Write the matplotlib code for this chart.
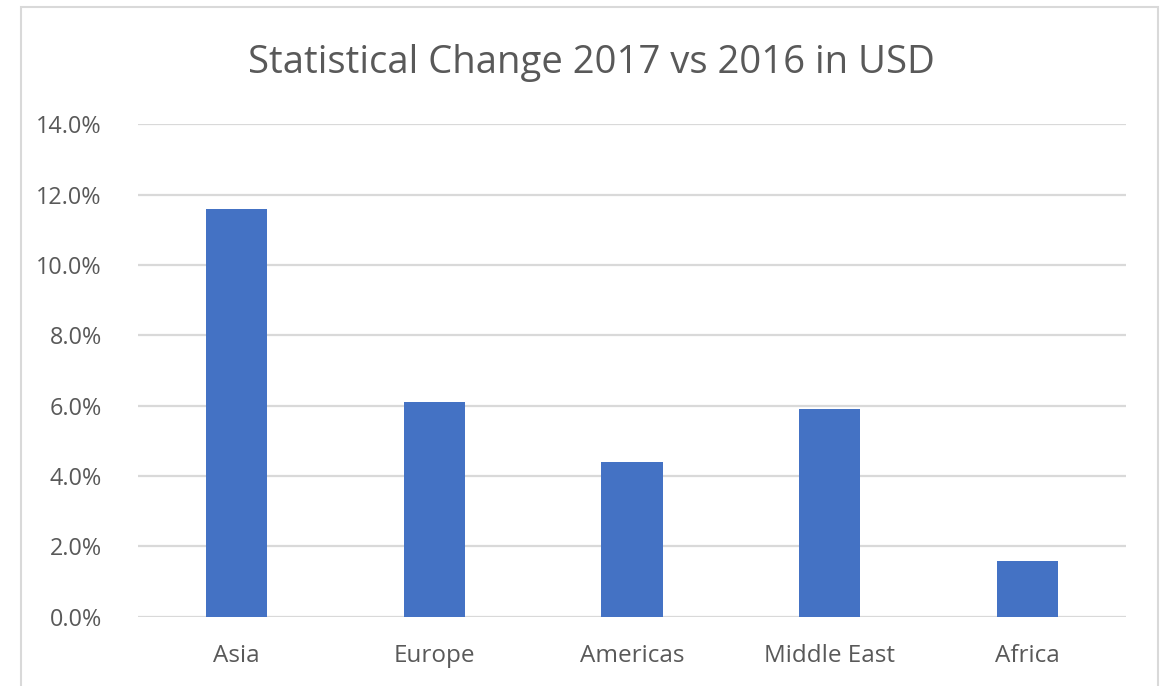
import matplotlib
matplotlib.use("Agg")
import matplotlib.pyplot as plt
from matplotlib.patches import Rectangle
from matplotlib.ticker import FuncFormatter

categories = ["Asia", "Europe", "Americas", "Middle East", "Africa"]
values = [0.116, 0.061, 0.044, 0.059, 0.0157]
title = "Statistical Change 2017 vs 2016 in USD"

plt.rcParams['font.family'] = ['Open Sans', 'DejaVu Sans']
text_color = "#595959"

fig = plt.figure(figsize=(11.6, 6.86), dpi=100)
fig.patch.set_facecolor("white")
ax = fig.add_axes([138/1160, 1-616.7/686, (1126-138)/1160, (616.7-124.3)/686])

x = range(len(categories))
ax.bar(x, values, width=0.31, color="#4472C4", zorder=3)
ax.set_xlim(-0.5, len(categories)-0.5)
ax.set_ylim(0, 0.14)
ax.set_yticks([i*0.02 for i in range(8)])
ax.yaxis.set_major_formatter(FuncFormatter(lambda v, p: f"{v*100:.1f}%"))
ax.set_xticks(list(x))
ax.set_xticklabels(categories)
ax.grid(axis="y", color="#D9D9D9", linewidth=1.6, zorder=0)
for s in ax.spines.values():
    s.set_visible(False)
ax.tick_params(axis="both", length=0, colors=text_color)
ax.tick_params(axis="y", pad=26, labelsize=16.8)
ax.tick_params(axis="x", pad=20, labelsize=17.5)

fig.text(591/1160, 1-63/686, title, ha="center", va="center", fontsize=27.5, color=text_color)

fig.patches.append(Rectangle((21/1160, -0.05), (1158-21)/1160, 1.05-7/686, transform=fig.transFigure,
                             fill=False, edgecolor="#D9D9D9", linewidth=1.5))

fig.savefig("out.png", dpi=100, facecolor="white")
